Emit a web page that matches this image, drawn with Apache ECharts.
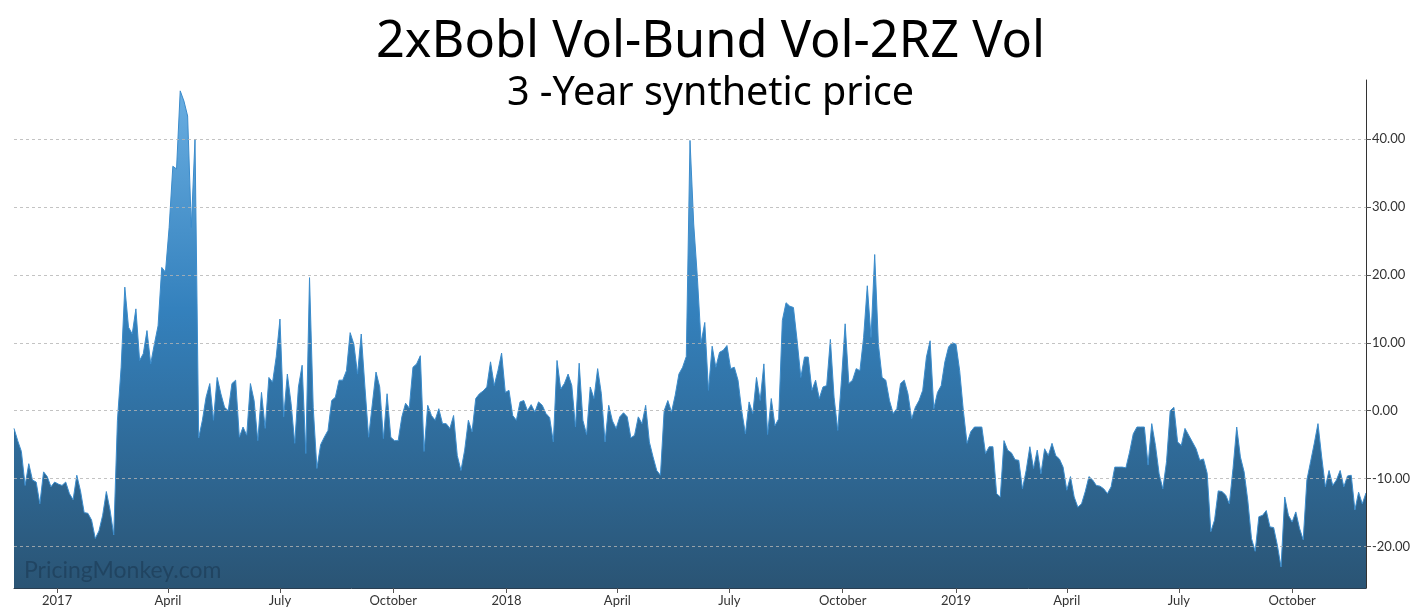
<!DOCTYPE html>
<html><head><meta charset="utf-8">
<script src="https://cdn.jsdelivr.net/npm/echarts@6/dist/echarts.min.js"></script>
<style>html,body{margin:0;padding:0;background:#fff}#c{width:1421px;height:616px}</style>
</head><body><div id="c"></div>
<script>
// ---- data ----
const titleText = '2xBobl Vol-Bund Vol-2RZ Vol';
const subtitleText = '3 -Year synthetic price';
const startDate = [2016, 10, 27];   // first observation (UTC, month 0-based)
const stepDays = 3;                 // spacing between observations
const values = [
 -2.6,-4.4,-6.0,-11.0,-7.8,-10.2,-10.5,-13.7,-9.0,-9.7,
 -11.2,-10.5,-10.8,-11.0,-10.5,-12.2,-13.1,-9.5,-11.8,-15.0,
 -15.1,-16.1,-18.8,-17.7,-15.4,-11.9,-14.6,-18.3,-1.4,6.4,
 18.2,12.3,11.3,15.0,7.4,8.4,11.8,6.9,9.8,12.5,
 21.1,20.4,27.0,36.0,35.6,47.1,45.6,43.4,27.0,40.0,
 -4.0,-1.4,2.0,4.0,-1.4,4.9,2.5,0.5,0.0,4.0,
 4.5,-3.9,-2.4,-3.6,4.0,1.5,-4.4,2.7,-2.6,4.9,
 4.2,8.0,13.5,-0.9,5.4,1.1,-4.8,3.5,6.7,-6.3,
 19.6,0.5,-8.5,-5.0,-3.9,-2.9,1.5,2.0,4.5,4.5,
 5.9,11.5,9.8,5.4,11.3,3.5,-3.9,1.0,5.7,3.5,
 -4.1,2.5,-3.9,-4.4,-4.4,-0.9,1.1,0.4,6.4,6.9,
 8.1,-6.0,0.8,-0.7,-1.4,0.3,-1.9,-1.9,-2.6,-0.7,
 -6.6,-8.8,-5.8,-1.4,-3.1,1.8,2.5,2.9,3.5,7.2,
 3.7,5.9,8.5,2.7,3.0,-0.7,-1.4,1.3,1.5,0.0,
 0.9,-0.2,1.3,0.8,-0.4,-1.0,-4.6,7.4,3.2,4.0,
 5.4,3.7,-2.4,7.0,-1.4,-3.5,3.5,1.8,6.2,2.5,
 -4.6,0.8,-1.5,-2.6,-0.9,-0.3,-0.9,-4.0,-3.6,-0.9,
 -1.9,0.8,-4.6,-6.8,-8.8,-9.5,0.0,1.5,-0.2,2.3,
 5.4,6.4,8.0,39.8,27.5,19.6,10.0,13.0,3.0,9.5,
 6.4,8.6,8.9,9.6,6.2,6.4,4.5,0.0,-3.4,1.3,
 -0.4,4.9,1.5,6.9,-3.5,1.8,-2.2,-1.2,13.3,15.9,
 15.4,15.2,10.3,4.9,7.9,7.9,3.0,4.5,1.8,3.5,
 3.7,10.5,2.0,-2.9,4.5,12.8,4.0,4.5,6.2,5.9,
 10.8,18.4,10.8,23.0,9.8,4.9,4.5,1.5,-0.4,0.3,
 4.0,4.5,2.5,-1.2,0.5,1.5,3.0,7.9,10.3,0.3,
 2.7,3.7,7.2,9.4,10.0,9.8,5.9,0.0,-4.8,-3.1,
 -2.4,-2.4,-2.4,-6.3,-5.3,-5.3,-12.2,-12.7,-4.4,-5.8,
 -6.2,-7.2,-7.3,-11.5,-8.8,-5.3,-8.5,-5.8,-9.3,-5.6,
 -6.6,-4.8,-6.6,-7.1,-8.3,-11.7,-9.7,-12.7,-14.2,-13.7,
 -11.9,-9.7,-10.2,-11.0,-11.1,-11.5,-12.2,-11.2,-8.3,-8.3,
 -8.3,-8.4,-6.1,-3.4,-2.4,-2.4,-2.4,-8.0,-1.9,-5.1,
 -9.3,-11.5,-7.5,0.0,0.5,-4.6,-5.1,-2.6,-3.6,-4.6,
 -5.6,-7.3,-7.1,-9.2,-17.8,-16.1,-11.8,-11.9,-12.4,-13.7,
 -8.5,-2.4,-6.8,-9.0,-13.2,-18.8,-20.7,-15.6,-15.4,-14.7,
 -17.1,-17.2,-19.8,-23.0,-12.7,-15.4,-16.4,-14.9,-17.3,-19.0,
 -10.2,-7.5,-4.8,-1.9,-6.8,-11.2,-8.8,-11.0,-10.2,-8.8,
 -11.2,-9.6,-9.5,-14.6,-12.0,-13.7,-12.1
];
const xTickDates = ['2017-01-01','2017-04-01','2017-07-01','2017-10-01',
                    '2018-01-01','2018-04-01','2018-07-01','2018-10-01',
                    '2019-01-01','2019-04-01','2019-07-01','2019-10-01'];
const xTickLabels = ['2017','April','July','October','2018','April','July','October','2019','April','July','October'];
const yTicks = [-20,-10,0,10,20,30,40];
const yMin = -26.1, yMax = 48.7;
const watermark = 'PricingMonkey.com';

// ---- build ----
const DAY = 86400000;
const t0 = Date.UTC(startDate[0], startDate[1], startDate[2]);
const seriesData = values.map((v, i) => [t0 + i * stepDays * DAY, v]);
const tickTs = xTickDates.map(d => Date.parse(d + 'T00:00:00Z'));
const labelOf = {};
tickTs.forEach((t, i) => { labelOf[t] = xTickLabels[i]; });

const chart = echarts.init(document.getElementById('c'), null, {renderer: 'canvas'});
const FONT = 'Lato, "Noto Sans", sans-serif';
chart.setOption({
  animation: false,
  backgroundColor: '#ffffff',
  title: [
    {text: titleText, left: 'center', top: 12,
     textStyle: {fontFamily: '"Noto Sans", sans-serif', fontSize: 50.5, fontWeight: 'normal', color: '#000'}},
    {text: subtitleText, left: 'center', top: 69,
     textStyle: {fontFamily: '"Noto Sans", sans-serif', fontSize: 39.5, fontWeight: 'normal', color: '#000'}}
  ],
  grid: {left: 14, right: 55, top: 80, bottom: 28, containLabel: false},
  xAxis: {
    type: 'value',
    min: seriesData[0][0], max: seriesData[seriesData.length - 1][0],
    axisLine: {show: true, onZero: false, lineStyle: {color: '#2a3f52', width: 1}},
    axisTick: {show: true, customValues: tickTs, length: 5, lineStyle: {color: '#555'}},
    axisLabel: {customValues: tickTs, formatter: v => labelOf[v] || '', color: '#333',
                fontFamily: FONT, fontSize: 13, margin: 6, hideOverlap: false},
    splitLine: {show: false}
  },
  yAxis: {
    type: 'value', position: 'right', min: yMin, max: yMax, z: 5,
    axisLine: {show: true, lineStyle: {color: '#333', width: 1}},
    axisTick: {show: true, customValues: yTicks, length: 5, lineStyle: {color: '#555'}},
    axisLabel: {customValues: yTicks, formatter: v => Number(v).toFixed(2), color: '#333',
                fontFamily: FONT, fontSize: 13, margin: 6},
    splitLine: {show: true, lineStyle: {type: [3, 3], color: 'rgba(180,180,180,0.8)', width: 1}}
  },
  graphic: [{
    type: 'text', left: 24, top: 559, z: 100, silent: true,
    style: {text: watermark, fontFamily: FONT, fontSize: 23, fill: 'rgba(15,35,55,0.35)'}
  }],
  series: [{
    type: 'line', data: seriesData, showSymbol: false, symbol: 'none', sampling: null,
    lineStyle: {width: 1, color: '#3b8ccc'},
    areaStyle: {origin: 'start', opacity: 1,
      color: new echarts.graphic.LinearGradient(0, 80, 0, 588, [
        {offset: 0, color: '#6cb0e3'},
        {offset: 0.45, color: '#3481bd'},
        {offset: 1, color: '#2a5474'}
      ], true)}
  }]
});
</script></body></html>
